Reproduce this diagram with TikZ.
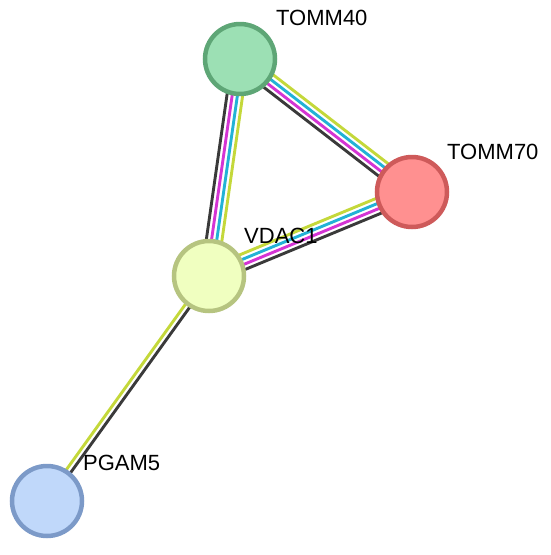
\documentclass[tikz,border=0pt]{standalone}
\usepackage{fontspec}
\setmainfont{Liberation Sans}
\usetikzlibrary{calc}
\pgfdeclarelayer{bg}
\pgfsetlayers{bg,main}
\definecolor{tmcol}{RGB}{196,216,58}
\definecolor{dbcol}{RGB}{34,178,214}
\definecolor{excol}{RGB}{212,52,212}
\definecolor{cocol}{RGB}{58,58,58}
\definecolor{f40}{RGB}{156,224,180}
\definecolor{b40}{RGB}{94,166,118}
\definecolor{f70}{RGB}{255,144,144}
\definecolor{b70}{RGB}{206,90,90}
\definecolor{fvd}{RGB}{240,255,192}
\definecolor{bvd}{RGB}{182,196,128}
\definecolor{fpg}{RGB}{192,216,250}
\definecolor{bpg}{RGB}{124,154,200}
\tikzset{
  x=1pt,y=-1pt,
  protein/.style={circle,minimum size=70pt,inner sep=0pt,line width=4.5pt},
  lbl/.style={anchor=west,inner sep=0pt,font=\fontsize{22}{26}\selectfont},
  ln/.style={line width=2.9pt}
}
\newcommand{\edgeline}[4]{% a, b, offset, color
  \draw[ln,#4] ($(#1)!#3!90:(#2)$) -- ($(#2)!#3!-90:(#1)$);}
\begin{document}
\begin{tikzpicture}
\useasboundingbox (0,0) rectangle (550,555);
\node[protein,fill=f40,draw=b40] (tomm40) at (240,59) {};
\node[protein,fill=f70,draw=b70] (tomm70) at (412,192) {};
\node[protein,fill=fvd,draw=bvd] (vdac1) at (209,276) {};
\node[protein,fill=fpg,draw=bpg] (pgam5) at (47,501) {};
\begin{pgfonlayer}{bg}
  % TOMM40 - VDAC1
  \edgeline{tomm40}{vdac1}{-7.8pt}{cocol}
  \edgeline{tomm40}{vdac1}{-2.6pt}{excol}
  \edgeline{tomm40}{vdac1}{2.6pt}{dbcol}
  \edgeline{tomm40}{vdac1}{7.8pt}{tmcol}
  % TOMM40 - TOMM70
  \edgeline{tomm40}{tomm70}{-7.8pt}{cocol}
  \edgeline{tomm40}{tomm70}{-2.6pt}{excol}
  \edgeline{tomm40}{tomm70}{2.6pt}{dbcol}
  \edgeline{tomm40}{tomm70}{7.8pt}{tmcol}
  % VDAC1 - TOMM70
  \edgeline{vdac1}{tomm70}{-7.8pt}{cocol}
  \edgeline{vdac1}{tomm70}{-2.6pt}{excol}
  \edgeline{vdac1}{tomm70}{2.6pt}{dbcol}
  \edgeline{vdac1}{tomm70}{7.8pt}{tmcol}
  % VDAC1 - PGAM5
  \edgeline{vdac1}{pgam5}{2.6pt}{cocol}
  \edgeline{vdac1}{pgam5}{-2.6pt}{tmcol}
\end{pgfonlayer}
\node[lbl] (l40) at (276,18) {TOMM40};
\node[lbl] (l70) at (447,152) {TOMM70};
\node[lbl] (lvd) at (244,236) {VDAC1};
\node[lbl] (lpg) at (83,463) {PGAM5};
\end{tikzpicture}
\end{document}
